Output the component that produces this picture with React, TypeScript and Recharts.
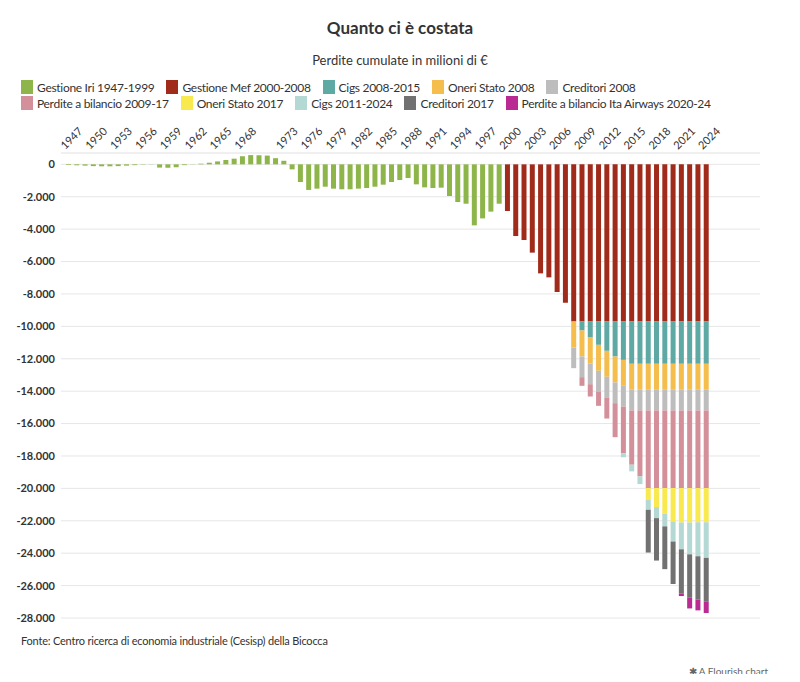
import { BarChart, Bar, XAxis, YAxis, CartesianGrid } from 'recharts';

const years = [
  1947, 1948, 1949, 1950, 1951, 1952, 1953, 1954, 1955, 1956, 1957, 1958, 1959,
  1960, 1961, 1962, 1963, 1964, 1965, 1966, 1967, 1968, 1969, 1970, 1971, 1972,
  1973, 1974, 1975, 1976, 1977, 1978, 1979, 1980, 1981, 1982, 1983, 1984, 1985,
  1986, 1987, 1988, 1989, 1990, 1991, 1992, 1993, 1994, 1995, 1996, 1997, 1998,
  1999, 2000, 2001, 2002, 2003, 2004, 2005, 2006, 2007, 2008, 2009, 2010, 2011,
  2012, 2013, 2014, 2015, 2016, 2017, 2018, 2019, 2020, 2021, 2022, 2023, 2024,
];

const yearTicks = [
  1947, 1950, 1953, 1956, 1959, 1962, 1965, 1968, 1973, 1976, 1979, 1982, 1985,
  1988, 1991, 1994, 1997, 2000, 2003, 2006, 2009, 2012, 2015, 2018, 2021, 2024,
];

const yTicks = [0, -2000, -4000, -6000, -8000, -10000, -12000, -14000, -16000, -18000, -20000, -22000, -24000, -26000, -28000];

// 1947-1999
const gestioneIri = [
  -40, -60, -80, -110, -120, -120, -110, -80, -50, -20,
  -10, -200, -210, -180, -50, -10, 40, 100, 180, 270,
  350, 500, 570, 560, 540, 380, 220, -310, -1090, -1580,
  -1500, -1380, -1500, -1540, -1540, -1500, -1460, -1380, -1255, -1090,
  -970, -845, -1235, -1420, -1460, -1440, -1955, -2325, -2430, -3765,
  -3335, -2920, -2430,
];
// 2000-2024
const gestioneMef = [
  -2880, -4425, -4670, -5450, -6730, -6975, -7880, -8540, -9700, -9700,
  -9700, -9700, -9700, -9700, -9700, -9700, -9700, -9700, -9700, -9700,
  -9700, -9700, -9700, -9700, -9700,
];
// 2009-2024
const cigs2008 = [-555, -990, -1440, -1810, -2160, -2370, -2610, -2610, -2610, -2610, -2610, -2610, -2610, -2610, -2610, -2610];
// 2008-2024
const oneriStato2008 = [-1600, -1600, -1600, -1600, -1600, -1600, -1600, -1600, -1600, -1600, -1600, -1600, -1600, -1600, -1600, -1600, -1600];
// 2008-2024
const creditori2008 = [-1280, -1280, -1280, -1280, -1280, -1280, -1280, -1280, -1280, -1280, -1280, -1280, -1280, -1280, -1280, -1280, -1280];
// 2009-2024
const perdite2009 = [-535, -760, -885, -1300, -2100, -2880, -3350, -4070, -4790, -4790, -4790, -4790, -4790, -4790, -4790, -4790];
// 2017-2024
const oneriStato2017 = [-720, -1175, -1585, -2060, -2130, -2130, -2110, -2110];
// 2014-2024
const cigs2011 = [-250, -410, -475, -620, -680, -780, -1240, -1650, -1960, -2100, -2200];
// 2017-2024
const creditori2017 = [-2640, -2620, -2640, -2620, -2720, -2680, -2680, -2680];
// 2021-2024
const itaAirways = [-165, -660, -660, -720];

const series = [
  { key: 'iri', name: 'Gestione Iri 1947-1999', color: '#8db54a', from: 1947, values: gestioneIri },
  { key: 'mef', name: 'Gestione Mef 2000-2008', color: '#a12b1b', from: 2000, values: gestioneMef },
  { key: 'cigs08', name: 'Cigs 2008-2015', color: '#5fa9a5', from: 2009, values: cigs2008 },
  { key: 'oneri08', name: 'Oneri Stato 2008', color: '#f4bd4c', from: 2008, values: oneriStato2008 },
  { key: 'cred08', name: 'Creditori 2008', color: '#bdbdbd', from: 2008, values: creditori2008 },
  { key: 'perdite', name: 'Perdite a bilancio 2009-17', color: '#d3909a', from: 2009, values: perdite2009 },
  { key: 'oneri17', name: 'Oneri Stato 2017', color: '#f8e94e', from: 2017, values: oneriStato2017 },
  { key: 'cigs11', name: 'Cigs 2011-2024', color: '#b4d8d4', from: 2014, values: cigs2011 },
  { key: 'cred17', name: 'Creditori 2017', color: '#717171', from: 2017, values: creditori2017 },
  { key: 'ita', name: 'Perdite a bilancio Ita Airways 2020-24', color: '#b92a93', from: 2021, values: itaAirways },
];

const data = years.map((year) => {
  const row: Record<string, number> = { year };
  series.forEach((s) => {
    const i = year - s.from;
    if (i >= 0 && i < s.values.length) row[s.key] = s.values[i];
  });
  return row;
});

const fmt = (v: number) => {
  const s = Math.abs(v).toString().replace(/\B(?=(\d{3})+(?!\d))/g, '.');
  return v < 0 ? '-' + s : s;
};

const YearTick = ({ x, y, payload }: any) => (
  <text
    x={x - 3}
    y={y - 3}
    transform={`rotate(-45, ${x - 3}, ${y - 3})`}
    textAnchor="start"
    fontSize={11}
    fill="#333"
  >
    {payload.value}
  </text>
);

const font = 'Lato, "Noto Sans", sans-serif';

export default function App() {
  const row1 = series.slice(0, 5);
  const row2 = series.slice(5);
  const legendRow = (items: typeof series) => (
    <div style={{ display: 'flex', gap: 12, height: 16, alignItems: 'center' }}>
      {items.map((s) => (
        <div key={s.key} style={{ display: 'flex', alignItems: 'center', gap: 4 }}>
          <span style={{ width: 12, height: 14, background: s.color, display: 'inline-block' }} />
          <span style={{ fontSize: 12, letterSpacing: -0.3, color: '#333', whiteSpace: 'nowrap' }}>{s.name}</span>
        </div>
      ))}
    </div>
  );

  return (
    <div style={{ position: 'relative', width: 784, height: 666, fontFamily: font, background: '#fff' }}>
      <div style={{ position: 'absolute', top: 9, left: 0, width: 784, textAlign: 'center', fontSize: 17, fontWeight: 700, lineHeight: '22px', color: '#333' }}>
        Quanto ci è costata
      </div>
      <div style={{ position: 'absolute', top: 44, left: 0, width: 784, textAlign: 'center', fontSize: 13, lineHeight: '16px', color: '#333' }}>
        Perdite cumulate in milioni di €
      </div>
      <div style={{ position: 'absolute', top: 71, left: 13 }}>
        {legendRow(row1)}
        {legendRow(row2)}
      </div>
      <div style={{ position: 'absolute', top: 110, left: 0 }}>
        <BarChart
          width={784}
          height={510}
          data={data}
          stackOffset="sign"
          barSize={5}
          margin={{ top: 5, right: 32, bottom: 10, left: 0 }}
        >
          <CartesianGrid vertical={false} stroke="#e6e6e6" />
          <XAxis
            dataKey="year"
            orientation="top"
            ticks={yearTicks}
            interval={0}
            tick={<YearTick />}
            tickLine={false}
            tickSize={0}
            tickMargin={0}
            axisLine={{ stroke: '#ececec' }}
            height={30}
            padding={{ left: 3, right: 50 }}
          />
          <YAxis
            domain={[-28000, 700]}
            ticks={yTicks}
            tickFormatter={fmt}
            tickLine={false}
            axisLine={false}
            tickSize={0}
            tickMargin={6}
            width={53}
            tick={{ fontSize: 11, fill: '#333', fontWeight: 700 }}
          />
          {series.map((s) => (
            <Bar key={s.key} dataKey={s.key} name={s.name} stackId="a" fill={s.color} isAnimationActive={false} />
          ))}
        </BarChart>
      </div>
      <div style={{ position: 'absolute', top: 626, left: 13, fontSize: 11, letterSpacing: -0.2, lineHeight: '14px', color: '#333' }}>
        Fonte: Centro ricerca di economia industriale (Cesisp) della Bicocca
      </div>
      <div style={{ position: 'absolute', top: 657, right: 24, fontSize: 10, lineHeight: '12px', color: '#666' }}>
        ✱ A Flourish chart
      </div>
    </div>
  );
}
